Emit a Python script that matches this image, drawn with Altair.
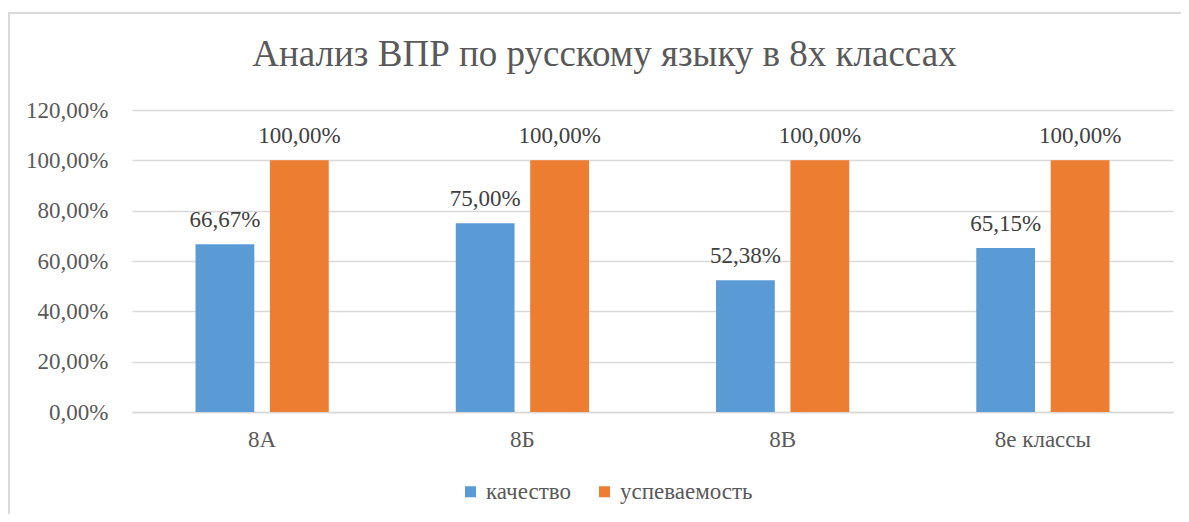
import altair as alt
import pandas as pd

categories = ["8А", "8Б", "8В", "8е классы"]
series = ["качество", "успеваемость"]
kachestvo = [0.6667, 0.75, 0.5238, 0.6515]
uspevaemost = [1.0, 1.0, 1.0, 1.0]
colors = ["#5B9BD5", "#ED7D31"]

rows = []
for c, k, u in zip(categories, kachestvo, uspevaemost):
    rows.append({"cat": c, "series": series[0], "value": k})
    rows.append({"cat": c, "series": series[1], "value": u})
df = pd.DataFrame(rows)

FONT = "'Liberation Serif', 'Times New Roman', serif"
TXT = "#595959"
GRID = "#D9D9D9"

x_enc = alt.X("cat:N", sort=categories, title=None,
              scale=alt.Scale(paddingInner=0.488, paddingOuter=0.244),
              axis=alt.Axis(labelAngle=0, ticks=False, domain=True, domainColor=GRID,
                            domainWidth=1.5, grid=False, labelFont=FONT, labelFontSize=23,
                            labelColor=TXT, labelPadding=16, labelBaseline="top"))
xo_enc = alt.XOffset("series:N", sort=series, scale=alt.Scale(paddingInner=0.21, paddingOuter=0))
y_enc = alt.Y("value:Q", title=None,
              scale=alt.Scale(domain=[0, 1.2], nice=False),
              axis=alt.Axis(values=[0, 0.2, 0.4, 0.6, 0.8, 1.0, 1.2],
                            labelExpr="replace(format(datum.value, '.2%'), '.', ',')",
                            ticks=False, domain=False, grid=True, gridColor=GRID, gridWidth=1.5,
                            labelFont=FONT, labelFontSize=23, labelColor=TXT,
                            labelPadding=24))

color_enc = alt.Color("series:N", sort=series, title=None,
                      scale=alt.Scale(domain=series, range=colors),
                      legend=alt.Legend(orient="none", direction="horizontal",
                                        legendX=327, legendY=370,
                                        symbolType="square", symbolSize=121,
                                        symbolStrokeWidth=0, labelFont=FONT,
                                        labelFontSize=23, labelColor=TXT,
                                        labelOffset=4, columnPadding=22))

bars = alt.Chart(df).mark_bar().encode(x=x_enc, xOffset=xo_enc, y=y_enc, color=color_enc)

labels = alt.Chart(df).transform_calculate(
    lab="replace(format(datum.value, '.2%'), '.', ',')"
).mark_text(font=FONT, fontSize=23, color="#404040", baseline="alphabetic", dy=-17).encode(
    x=alt.X("cat:N", sort=categories), xOffset=alt.XOffset("series:N", sort=series),
    y="value:Q", text="lab:N")

border_df = pd.DataFrame({"a": [0]})
left_border = alt.Chart(border_df).mark_rule(color=GRID, strokeWidth=2).encode(
    x=alt.value(-123), y=alt.value(-97), y2=alt.value(410))
top_border = alt.Chart(border_df).mark_rule(color=GRID, strokeWidth=2).encode(
    x=alt.value(-124), x2=alt.value(1060), y=alt.value(-97))

chart = alt.layer(bars, labels, left_border, top_border).properties(
    width=1041, height=302,
    autosize=alt.AutoSizeParams(type="none"),
    padding={"left": 124, "top": 102, "right": 8, "bottom": 102},
    title=alt.TitleParams("Анализ ВПР по русскому языку в 8х классах",
                          font=FONT, fontSize=37, fontWeight="normal", color=TXT,
                          anchor="middle", dx=-48, baseline="alphabetic", offset=-91),
).configure(font=FONT).configure_view(stroke=None).configure_axis(
    labelFont=FONT
).configure_legend(labelFont=FONT).configure_text(font=FONT)

chart.save("out.html", embed_options={"renderer": "svg", "actions": False})
